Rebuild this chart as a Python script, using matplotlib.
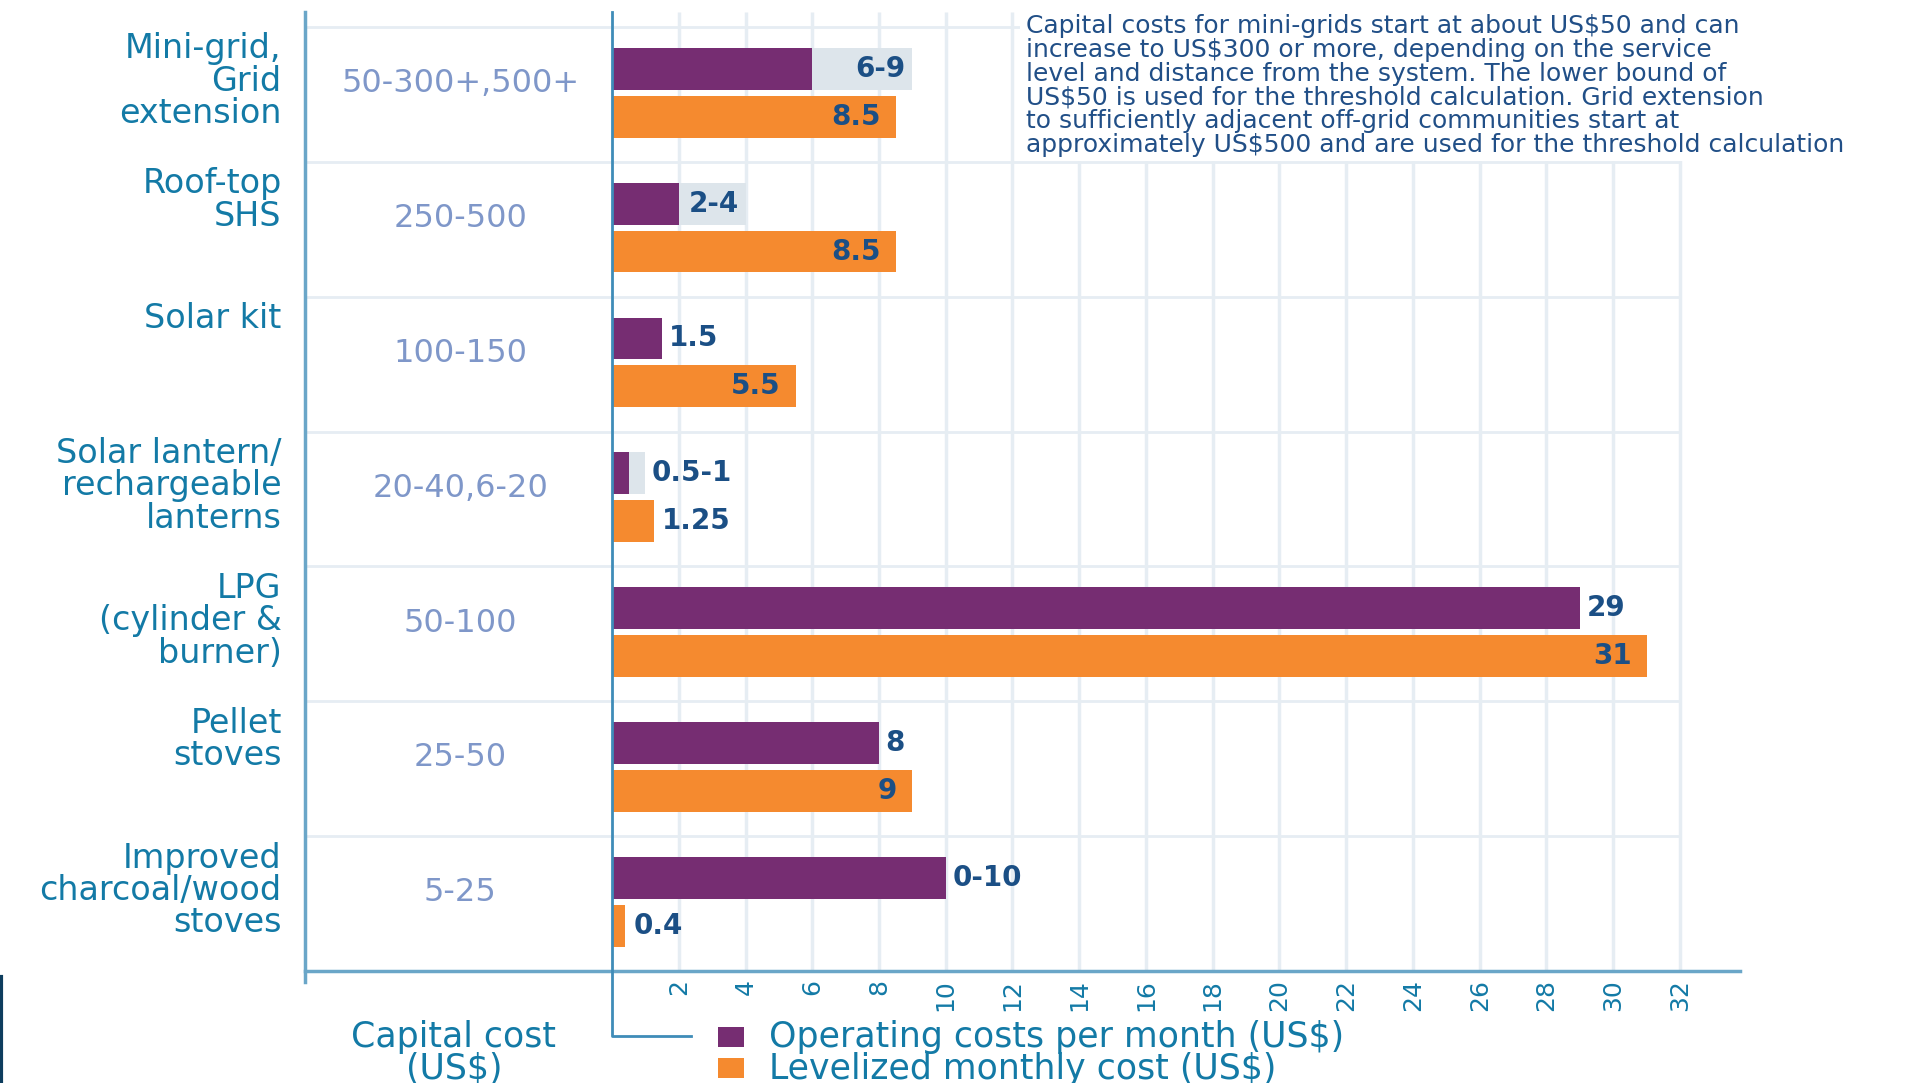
import matplotlib
matplotlib.use("Agg")
import matplotlib.pyplot as plt
import numpy as np
from matplotlib.lines import Line2D
from matplotlib.patches import Rectangle

categories = [
    "Mini-grid,\nGrid\nextension",
    "Roof-top\nSHS",
    "Solar kit",
    "Solar lantern/\nrechargeable\nlanterns",
    "LPG\n(cylinder &\nburner)",
    "Pellet\nstoves",
    "Improved\ncharcoal/wood\nstoves",
]
capital_cost = ["50-300+,500+", "250-500", "100-150", "20-40,6-20", "50-100", "25-50", "5-25"]
operating_low = [6, 2, 1.5, 0.5, 29, 8, 10]
operating_high = [9, 4, 1.5, 1, 29, 8, 10]
operating_labels = ["6-9", "2-4", "1.5", "0.5-1", "29", "8", "0-10"]
levelized = [8.5, 8.5, 5.5, 1.25, 31, 9, 0.4]
levelized_labels = ["8.5", "8.5", "5.5", "1.25", "31", "9", "0.4"]
x_ticks = list(range(2, 33, 2))

note = ("Capital costs for mini-grids start at about US$50 and can\n"
        "increase to US$300 or more, depending on the service\n"
        "level and distance from the system. The lower bound of\n"
        "US$50 is used for the threshold calculation. Grid extension\n"
        "to sufficiently adjacent off-grid communities start at\n"
        "approximately US$500 and are used for the threshold calculation")

PURPLE = "#762d72"
ORANGE = "#f58a2f"
RANGE_GRAY = "#dde5eb"
GRID = "#e6edf3"
AXIS_LIGHT = "#6aa6c8"
AXIS_DARK = "#3f8cb8"
CAT_TEXT = "#137aa6"
CAP_TEXT = "#7f97c9"
VAL_TEXT = "#1b4f85"
NOTE_TEXT = "#214f87"

W, H = 1915, 1083
fig = plt.figure(figsize=(W / 100, H / 100), dpi=100)
ax = fig.add_axes([305 / W, (H - 971) / H, 1435 / W, 959 / H])

x_min, x_max = -9.2, 33.8
y_top = -0.111
n = len(categories)
rows = np.arange(n)
op_y = rows + 0.31
lev_y = rows + 0.665
bar_h = 0.31

# grid: vertical value lines and row separators
ax.vlines(x_ticks, y_top, n, color=GRID, lw=2.5, zorder=0)
ax.hlines(rows, x_min, 32, color=GRID, lw=2, zorder=0)

ax.barh(op_y, operating_high, height=bar_h, color=RANGE_GRAY, zorder=2)
ax.barh(op_y, operating_low, height=bar_h, color=PURPLE, zorder=3)
ax.barh(lev_y, levelized, height=bar_h, color=ORANGE, zorder=3)

val_font = dict(fontsize=20, fontweight="bold", color=VAL_TEXT, va="center", zorder=5)
for i in range(n):
    if operating_high[i] - operating_low[i] >= 2:
        ax.text(operating_high[i] - 0.2, op_y[i], operating_labels[i], ha="right", **val_font)
    else:
        ax.text(operating_high[i] + 0.2, op_y[i], operating_labels[i], ha="left", **val_font)
    if levelized[i] >= 5:
        ax.text(levelized[i] - 0.45, lev_y[i], levelized_labels[i], ha="right", **val_font)
    else:
        ax.text(levelized[i] + 0.25, lev_y[i], levelized_labels[i], ha="left", **val_font)

    ax.text(-9.9, rows[i] + 0.04, categories[i], ha="right", va="top", fontsize=24,
            color=CAT_TEXT, linespacing=0.98, clip_on=False)
    ax.text(-4.55, rows[i] + 0.42, capital_cost[i], ha="center", va="center", fontsize=23,
            color=CAP_TEXT)

ax.set_xlim(x_min, x_max)
ax.set_ylim(n, y_top)
ax.set_xticks(x_ticks)
ax.set_xticklabels([str(t) for t in x_ticks], rotation=90, fontsize=18, color=CAT_TEXT)
ax.tick_params(axis="x", length=0, pad=6)
ax.set_yticks([])
for side in ("top", "right", "left"):
    ax.spines[side].set_visible(False)
ax.spines["bottom"].set_color(AXIS_LIGHT)
ax.spines["bottom"].set_linewidth(2.5)

# outer left rule and the zero line that bends into the legend
ax.plot([x_min, x_min], [y_top, 7.08], color=AXIS_LIGHT, lw=2.5, clip_on=False, zorder=4)
ax.plot([0, 0, 2.38], [y_top, 7.48, 7.48], color=AXIS_DARK, lw=2, clip_on=False, zorder=4)

# footnote box over the top-right grid
fig.add_artist(Rectangle((1020 / W, 1 - 161 / H), 1 - 1020 / W, 161 / H,
                         transform=fig.transFigure, facecolor="white", edgecolor="none", zorder=2))
fig.text(1026 / W, 1 - 14 / H, note, ha="left", va="top", fontsize=18, color=NOTE_TEXT,
         linespacing=0.99, zorder=3)

# legend
fig.add_artist(Rectangle((718 / W, 1 - 1047 / H), 26 / W, 20 / H, transform=fig.transFigure,
                         facecolor=PURPLE, edgecolor="none"))
fig.add_artist(Rectangle((718 / W, 1 - 1078 / H), 26 / W, 20 / H, transform=fig.transFigure,
                         facecolor=ORANGE, edgecolor="none"))
fig.text(769 / W, 1 - 1037 / H, "Operating costs per month (US$)", ha="left", va="center",
         fontsize=25, color=CAT_TEXT)
fig.text(769 / W, 1 - 1069 / H, "Levelized monthly cost (US$)", ha="left", va="center",
         fontsize=25, color=CAT_TEXT)

fig.text(454 / W, 1 - 1037 / H, "Capital cost", ha="center", va="center", fontsize=25, color=CAT_TEXT)
fig.text(454 / W, 1 - 1069 / H, "(US$)", ha="center", va="center", fontsize=25, color=CAT_TEXT)

fig.add_artist(Line2D([1.5 / W, 1.5 / W], [0, 106 / H], color="#0d3d5e", lw=3,
                      transform=fig.transFigure))

fig.savefig("out.png", dpi=100)
